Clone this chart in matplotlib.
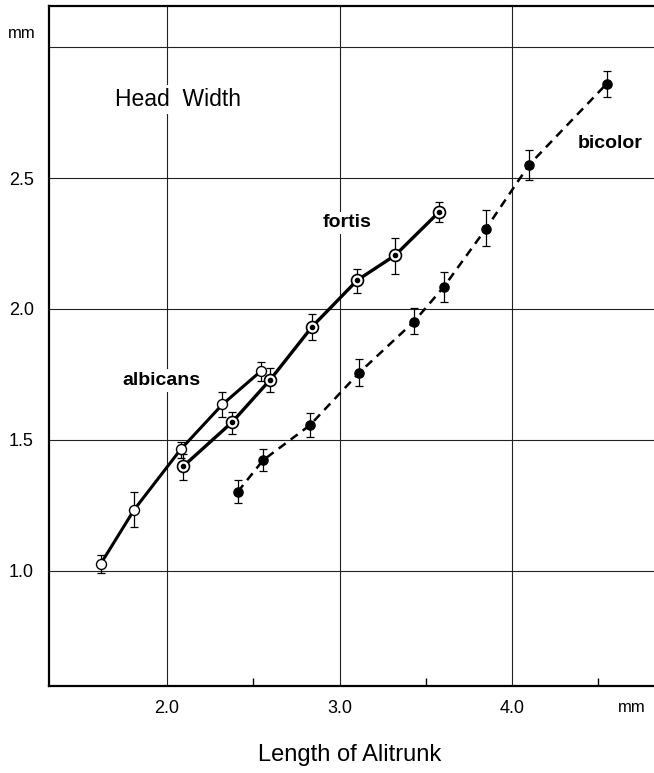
import matplotlib
matplotlib.use("Agg")
import matplotlib.pyplot as plt
from matplotlib.ticker import FixedLocator

plt.rcParams['font.family'] = ['Liberation Sans', 'DejaVu Sans']

# ---- data ----
alb_x = [1.617, 1.81, 2.079, 2.321, 2.547]
alb_y = [1.027, 1.233, 1.463, 1.635, 1.764]
alb_lo = [0.99, 1.168, 1.43, 1.587, 1.723]
alb_hi = [1.06, 1.302, 1.493, 1.681, 1.797]

for_x = [2.093, 2.377, 2.599, 2.842, 3.103, 3.322, 3.579]
for_y = [1.398, 1.567, 1.730, 1.933, 2.110, 2.205, 2.372]
for_lo = [1.347, 1.522, 1.683, 1.882, 2.061, 2.133, 2.331]
for_hi = [1.445, 1.608, 1.774, 1.982, 2.154, 2.273, 2.410]

bic_x = [2.41, 2.557, 2.829, 3.115, 3.432, 3.604, 3.848, 4.099, 4.549]
bic_y = [1.301, 1.422, 1.556, 1.757, 1.952, 2.084, 2.306, 2.551, 2.861]
bic_lo = [1.259, 1.38, 1.512, 1.707, 1.904, 2.025, 2.239, 2.494, 2.81]
bic_hi = [1.346, 1.463, 1.604, 1.808, 2.002, 2.14, 2.377, 2.607, 2.911]

x_ticks = [2.0, 3.0, 4.0]
x_ticklabels = ['2.0', '3.0', '4.0']
x_minor = [2.5, 3.5, 4.5]
y_ticks = [1.0, 1.5, 2.0, 2.5, 3.0]
y_ticklabels = ['1.0', '1.5', '2.0', '2.5', '']

fig = plt.figure(figsize=(6.54, 7.73), dpi=100)
ax = fig.add_axes([0.0749, 0.1129, 0.9251, 0.8793])
ax.set_xlim(1.316, 4.823)
ax.set_ylim(0.56, 3.158)

# grid
ax.set_xticks(x_ticks)
ax.set_xticklabels(x_ticklabels, fontsize=13)
ax.set_yticks(y_ticks)
ax.set_yticklabels(y_ticklabels, fontsize=13)
ax.xaxis.set_minor_locator(FixedLocator(x_minor))
ax.grid(True, which='major', color='#222222', linewidth=0.8, zorder=0)
ax.tick_params(axis='both', which='major', length=0)
ax.tick_params(axis='x', which='major', pad=10)
ax.tick_params(axis='y', which='major', pad=11)
ax.tick_params(axis='x', which='minor', direction='in', length=6, width=1.0)
ax.set_axisbelow(True)

for s in ['left', 'bottom', 'top']:
    ax.spines[s].set_linewidth(1.6)
ax.spines['right'].set_visible(False)

def err(x, y, lo, hi):
    yerr = [[yy - l for yy, l in zip(y, lo)], [h - yy for yy, h in zip(y, hi)]]
    ax.errorbar(x, y, yerr=yerr, fmt='none', ecolor='black', elinewidth=0.9,
                capsize=2.8, capthick=0.9, zorder=2)

err(alb_x, alb_y, alb_lo, alb_hi)
err(for_x, for_y, for_lo, for_hi)
err(bic_x, bic_y, bic_lo, bic_hi)

ax.plot(alb_x, alb_y, '-', color='black', linewidth=2.2, zorder=3)
ax.plot(alb_x, alb_y, 'o', markersize=7.2, markerfacecolor='white',
        markeredgecolor='black', markeredgewidth=1.0, zorder=4)

ax.plot(for_x, for_y, '-', color='black', linewidth=2.4, zorder=3)
ax.plot(for_x, for_y, 'o', markersize=8.6, markerfacecolor='white',
        markeredgecolor='black', markeredgewidth=1.2, zorder=4)
ax.plot(for_x, for_y, 'o', markersize=3.0, color='black', zorder=5)

ax.plot(bic_x, bic_y, '--', color='black', linewidth=1.8, dashes=(3.5, 2.5), zorder=3)
ax.plot(bic_x, bic_y, 'o', markersize=6.6, color='black', zorder=4)

wb = dict(facecolor='white', edgecolor='none', pad=2)
ax.text(2.064, 2.80, 'Head  Width', fontsize=16.5, ha='center', va='center', bbox=wb, zorder=6)
ax.text(1.969, 1.727, 'albicans', fontsize=14, fontweight='bold', ha='center', va='center', bbox=wb, zorder=6)
ax.text(3.046, 2.329, 'fortis', fontsize=14, fontweight='bold', ha='center', va='center', bbox=wb, zorder=6)
ax.text(4.568, 2.632, 'bicolor', fontsize=14, fontweight='bold', ha='center', va='center', bbox=wb, zorder=6)

fig.text(21.5 / 654, 1 - 33 / 773, 'mm', fontsize=12, ha='center', va='center')
fig.text(632 / 654, 1 - 707 / 773, 'mm', fontsize=12, ha='center', va='center')
fig.text(350 / 654, 1 - 755 / 773, 'Length of Alitrunk', fontsize=17, ha='center', va='center')

fig.savefig('out.png', dpi=100)
